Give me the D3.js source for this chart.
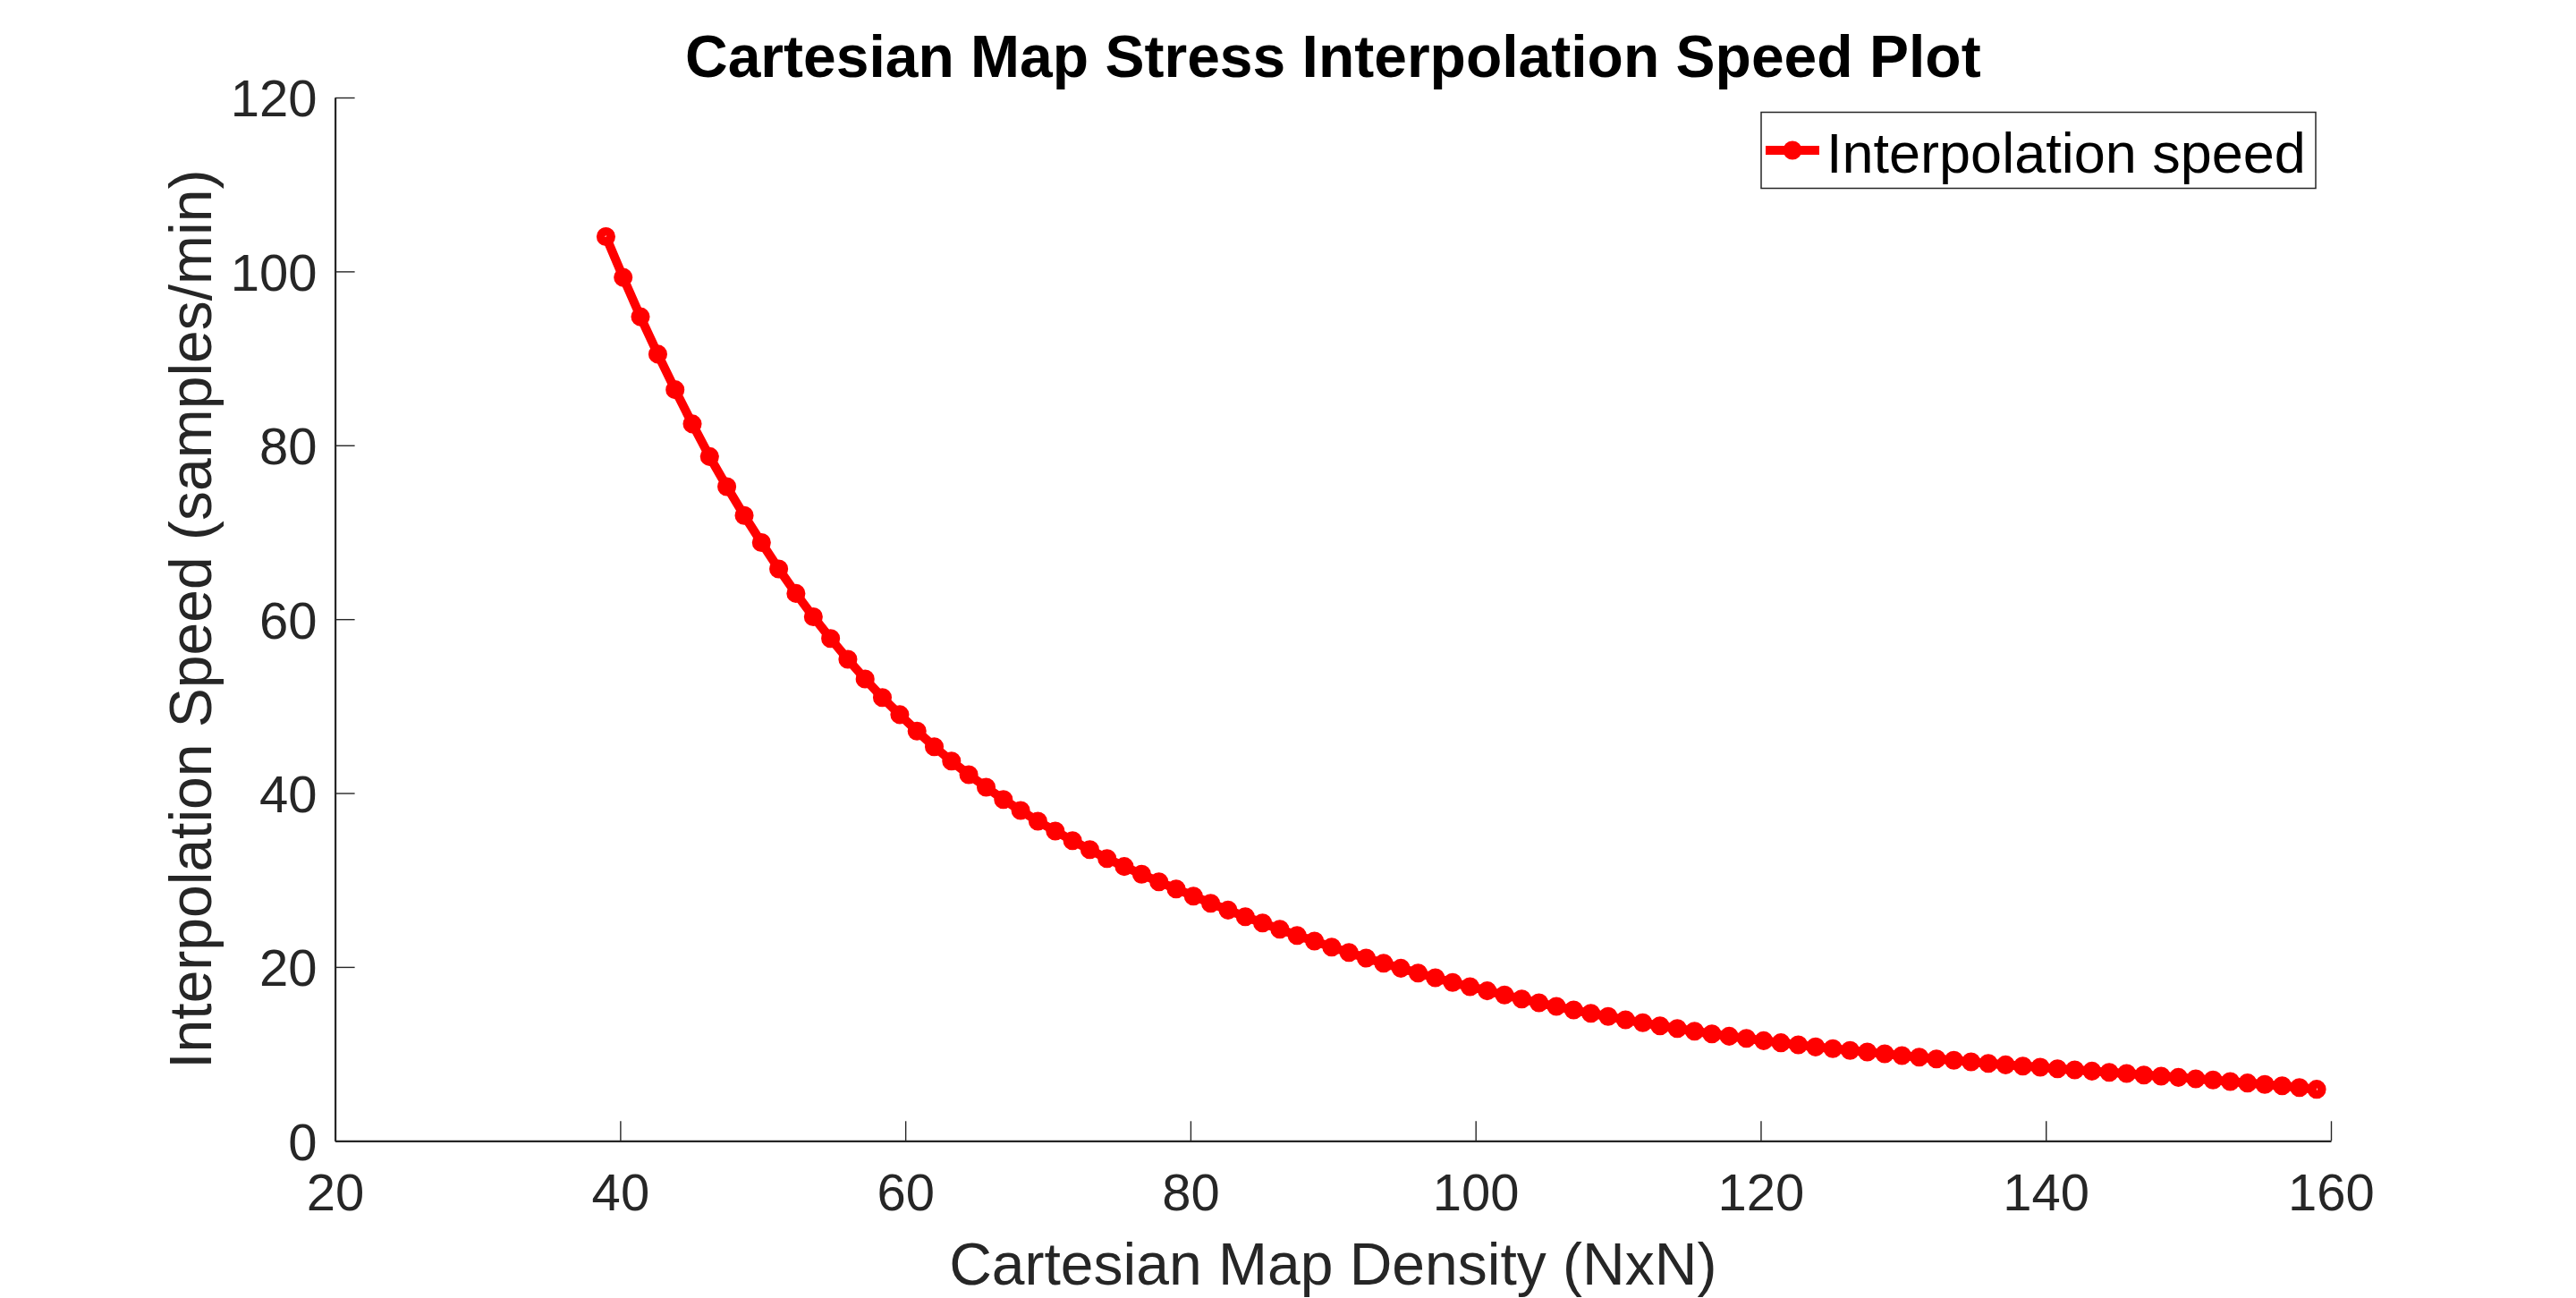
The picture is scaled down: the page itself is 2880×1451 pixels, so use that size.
<!DOCTYPE html>
<html>
<head>
<meta charset="utf-8">
<script src="https://cdn.jsdelivr.net/npm/d3@7"></script>
<style>
  html, body { margin: 0; padding: 0; background: #fff; }
  svg { display: block; font-family: "Liberation Sans", Arial, Helvetica, sans-serif; }
</style>
</head>
<body>
<svg id="chart" width="2880" height="1451"></svg>
<script>
// map density N (x)
let density = [
  39.00, 40.21, 41.42, 42.64, 43.85, 45.06, 46.27, 47.48, 48.70, 49.91,
  51.12, 52.33, 53.55, 54.76, 55.97, 57.18, 58.39, 59.61, 60.82, 62.03,
  63.24, 64.45, 65.67, 66.88, 68.09, 69.30, 70.52, 71.73, 72.94, 74.15,
  75.36, 76.58, 77.79, 79.00, 80.21, 81.42, 82.64, 83.85, 85.06, 86.27,
  87.48, 88.70, 89.91, 91.12, 92.33, 93.55, 94.76, 95.97, 97.18, 98.39,
  99.61, 100.82, 102.03, 103.24, 104.45, 105.67, 106.88, 108.09, 109.30, 110.52,
  111.73, 112.94, 114.15, 115.36, 116.58, 117.79, 119.00, 120.21, 121.42, 122.64,
  123.85, 125.06, 126.27, 127.48, 128.70, 129.91, 131.12, 132.33, 133.55, 134.76,
  135.97, 137.18, 138.39, 139.61, 140.82, 142.03, 143.24, 144.45, 145.67, 146.88,
  148.09, 149.30, 150.52, 151.73, 152.94, 154.15, 155.36, 156.58, 157.79, 159.00
];

// interpolation speed (samples/min)
let speed = [
  104.00, 99.31, 94.78, 90.48, 86.39, 82.46, 78.70, 75.25, 71.92, 68.81,
  65.78, 62.96, 60.28, 57.77, 55.38, 53.12, 50.99, 49.02, 47.13, 45.33,
  43.68, 42.11, 40.67, 39.26, 37.99, 36.76, 35.63, 34.53, 33.50, 32.47,
  31.55, 30.66, 29.79, 28.97, 28.15, 27.33, 26.54, 25.78, 25.06, 24.34,
  23.62, 22.97, 22.28, 21.67, 21.02, 20.43, 19.85, 19.30, 18.76, 18.21,
  17.73, 17.25, 16.77, 16.32, 15.87, 15.46, 15.05, 14.67, 14.30, 13.92,
  13.58, 13.23, 12.92, 12.61, 12.30, 12.03, 11.79, 11.52, 11.28, 11.04,
  10.80, 10.60, 10.39, 10.21, 10.01, 9.80, 9.63, 9.42, 9.26, 9.08,
  8.91, 8.74, 8.60, 8.47, 8.29, 8.16, 8.02, 7.88, 7.75, 7.57,
  7.44, 7.30, 7.13, 7.00, 6.82, 6.65, 6.48, 6.33, 6.13, 5.93
];

let xTicks = [20, 40, 60, 80, 100, 120, 140, 160];
let yTicks = [0, 20, 40, 60, 80, 100, 120];

let titleText = 'Cartesian Map Stress Interpolation Speed Plot';
let xLabel = 'Cartesian Map Density (NxN)';
let yLabel = 'Interpolation Speed (samples/min)';
let seriesName = 'Interpolation speed';

let axisColor = '#262626';
let red = '#ff0000';

let svg = d3.select('#chart');

// plot box in pixels
let plotLeft = 374.6, plotRight = 2606, plotTop = 109, plotBottom = 1275.3;

let x = d3.scaleLinear().domain([20, 160]).range([plotLeft, plotRight]);
let y = d3.scaleLinear().domain([0, 120]).range([plotBottom, plotTop]);

// axes: MATLAB style, ticks pointing inward, no box
let xAxis = d3.axisBottom(x).tickValues(xTicks).tickSizeInner(-22).tickSizeOuter(0);
let yAxis = d3.axisLeft(y).tickValues(yTicks).tickSizeInner(-22).tickSizeOuter(0);

let gx = svg.append('g')
  .attr('transform', `translate(0,${plotBottom})`)
  .call(xAxis);
let gy = svg.append('g')
  .attr('transform', `translate(${plotLeft},0)`)
  .call(yAxis);

[gx, gy].forEach(g => {
  g.attr('font-family', null).attr('font-size', null);
  g.select('.domain').attr('stroke', axisColor).attr('stroke-width', 2.2);
  g.selectAll('.tick line').attr('stroke', axisColor).attr('stroke-width', 1.4);
  g.selectAll('.tick text')
    .attr('fill', axisColor)
    .style('font-size', '58px');
});
// labels positioned below / left of the axis lines
gx.selectAll('.tick text').attr('dy', null).attr('y', 78);
gy.selectAll('.tick text').attr('dy', '0.36em').attr('x', -20);

// data line + markers
let pts = density.map((d, i) => [d, speed[i]]);

let line = d3.line().x(d => x(d[0])).y(d => y(d[1]));

svg.append('path')
  .datum(pts)
  .attr('d', line)
  .attr('fill', 'none')
  .attr('stroke', red)
  .attr('stroke-width', 10)
  .attr('stroke-linejoin', 'round');

svg.append('g').selectAll('circle')
  .data(pts)
  .enter().append('circle')
  .attr('cx', d => x(d[0]))
  .attr('cy', d => y(d[1]))
  .attr('r', 5.8)
  .attr('fill', 'none')
  .attr('stroke', red)
  .attr('stroke-width', 9.5);

// title and axis labels
svg.append('text')
  .attr('x', (plotLeft + plotRight) / 2)
  .attr('y', 86)
  .attr('text-anchor', 'middle')
  .attr('font-weight', 'bold')
  .attr('font-size', 66)
  .attr('fill', '#000')
  .text(titleText);

svg.append('text')
  .attr('x', (plotLeft + plotRight) / 2)
  .attr('y', 1436)
  .attr('text-anchor', 'middle')
  .attr('font-size', 66)
  .attr('fill', axisColor)
  .text(xLabel);

svg.append('text')
  .attr('transform', `translate(236,${(plotTop + plotBottom) / 2}) rotate(-90)`)
  .attr('text-anchor', 'middle')
  .attr('font-size', 66)
  .attr('fill', axisColor)
  .text(yLabel);

// legend
let lg = svg.append('g');
lg.append('rect')
  .attr('x', 1969).attr('y', 125.5)
  .attr('width', 620).attr('height', 85)
  .attr('fill', '#fff')
  .attr('stroke', axisColor)
  .attr('stroke-width', 1.5);
lg.append('line')
  .attr('x1', 1974).attr('x2', 2034)
  .attr('y1', 168).attr('y2', 168)
  .attr('stroke', red).attr('stroke-width', 10);
lg.append('circle')
  .attr('cx', 2004).attr('cy', 168).attr('r', 5.8)
  .attr('fill', 'none').attr('stroke', red).attr('stroke-width', 9.5);
lg.append('text')
  .attr('x', 2042).attr('y', 192.7)
  .attr('font-size', 63)
  .attr('fill', '#000')
  .text(seriesName);
</script>
</body>
</html>
